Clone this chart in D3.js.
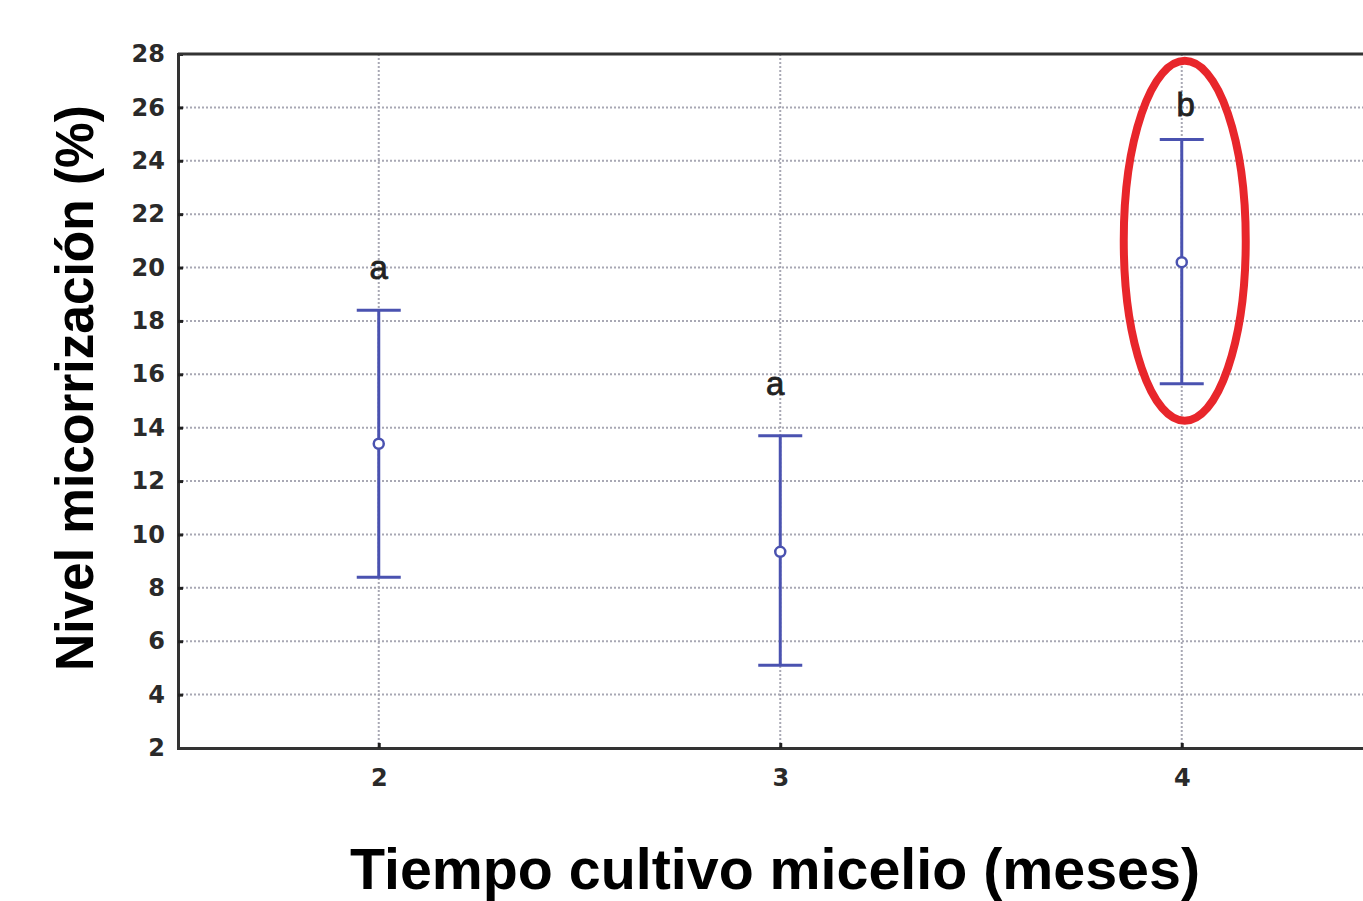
<!DOCTYPE html>
<html><head><meta charset="utf-8">
<script src="https://cdn.jsdelivr.net/npm/d3@7"></script>
<style>html,body{margin:0;padding:0;background:#fff;overflow:hidden}</style>
</head><body>
<svg id="chart" width="1363" height="901"></svg>
<script>
const categories = [2, 3, 4];
const means = [13.4, 9.35, 20.2];
const upper = [18.4, 13.7, 24.8];
const lower = [8.4, 5.1, 15.65];
const letters = ["a", "a", "b"];
const letterY = [20.0, 15.65, 26.1];
const yTicks = [2,4,6,8,10,12,14,16,18,20,22,24,26,28];
const xTitle = "Tiempo cultivo micelio (meses)";
const yTitle = "Nivel micorrización (%)";

const svg = d3.select("#chart");
const L = 178, T = 54, B = 748;
const x = d3.scaleLinear().domain([1.5, 4.5]).range([L, L + 3*401.5]);
const y = d3.scaleLinear().domain([2, 28]).range([B, T]);
const R = x.range()[1];

// grid
svg.append("g").selectAll("line").data(yTicks.filter(d => d>2 && d<28)).join("line")
  .attr("x1", L).attr("x2", R).attr("y1", d=>y(d)).attr("y2", d=>y(d))
  .attr("stroke", "#a8a8b4").attr("stroke-width", 2).attr("stroke-dasharray", "2,2");
svg.append("g").selectAll("line").data(categories).join("line")
  .attr("x1", d=>x(d)).attr("x2", d=>x(d)).attr("y1", T).attr("y2", B)
  .attr("stroke", "#a8a8b4").attr("stroke-width", 2).attr("stroke-dasharray", "2,2");

// axes
const yAxis = d3.axisLeft(y).tickValues(yTicks).tickSize(-5).tickPadding(15);
const gy = svg.append("g").attr("transform", `translate(${L},0)`).call(yAxis);
const xAxis = d3.axisBottom(x).tickValues(categories).tickFormat(d3.format("d")).tickSize(-5).tickPadding(21);
const gx = svg.append("g").attr("transform", `translate(0,${B})`).call(xAxis);
[gy, gx].forEach(g => {
  g.select(".domain").attr("stroke", "#333").attr("stroke-width", 3);
  g.selectAll(".tick line").attr("stroke", "#222").attr("stroke-width", 3);
  g.selectAll(".tick text").attr("fill", "#2a2a2a").style("font-family", "DejaVu Sans")
    .style("font-weight", "bold").style("font-size", "24px");
});
gy.selectAll(".tick text").attr("dx", 2);
// top border
svg.append("line").attr("x1", L).attr("x2", R).attr("y1", T).attr("y2", T)
  .attr("stroke", "#333").attr("stroke-width", 3);

// error bars
const blue = "#4a52b0";
const cap = 22;
const eb = svg.append("g");
categories.forEach((c, i) => {
  eb.append("line").attr("x1", x(c)).attr("x2", x(c)).attr("y1", y(upper[i])).attr("y2", y(lower[i]))
    .attr("stroke", blue).attr("stroke-width", 3);
  [upper[i], lower[i]].forEach(v => eb.append("line")
    .attr("x1", x(c)-cap).attr("x2", x(c)+cap).attr("y1", y(v)).attr("y2", y(v))
    .attr("stroke", blue).attr("stroke-width", 3));
  eb.append("circle").attr("cx", x(c)).attr("cy", y(means[i])).attr("r", 5)
    .attr("fill", "#fff").attr("stroke", blue).attr("stroke-width", 2.5);
  eb.append("text").attr("x", x(c) + (i===1?-5:(i===2?4:0))).attr("y", y(letterY[i]))
    .attr("text-anchor", "middle").attr("dominant-baseline", "central")
    .attr("font-family", "Liberation Sans").attr("font-size", 33).attr("fill", "#222")
    .attr("stroke", "#222").attr("stroke-width", 0.8)
    .text(letters[i]);
});

// red ellipse
svg.append("ellipse").attr("cx", x(4)+3).attr("cy", y(21.0)).attr("rx", 61).attr("ry", 180)
  .attr("fill", "none").attr("stroke", "#e8262b").attr("stroke-width", 8);

// titles
svg.append("text").attr("x", 775).attr("y", 889).attr("text-anchor", "middle")
  .attr("font-family", "Liberation Sans Narrow, Liberation Sans").attr("font-weight", "bold")
  .attr("font-size", 58).attr("fill", "#000")
  .attr("textLength", 850).attr("lengthAdjust", "spacingAndGlyphs").text(xTitle);
svg.append("text").attr("transform", "translate(93,388) rotate(-90)").attr("text-anchor", "middle")
  .attr("font-family", "Liberation Sans Narrow, Liberation Sans").attr("font-weight", "bold")
  .attr("font-size", 54).attr("fill", "#000")
  .attr("textLength", 566).attr("lengthAdjust", "spacingAndGlyphs").text(yTitle);
</script>
</body></html>
